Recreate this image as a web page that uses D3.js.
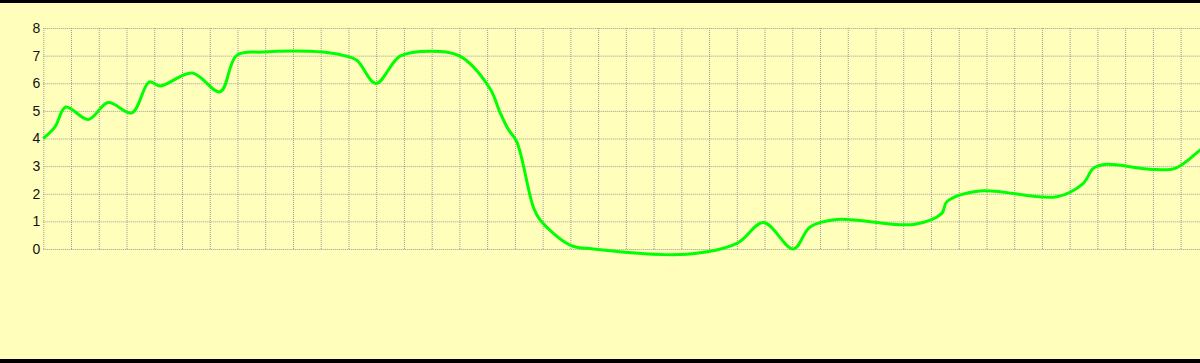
<!DOCTYPE html>
<html>
<head>
<meta charset="utf-8">
<script src="https://cdn.jsdelivr.net/npm/d3@7"></script>
<style>
  html, body { margin: 0; padding: 0; background: #ffffbb; }
  svg { display: block; }
</style>
</head>
<body>
<svg id="chart" width="1200" height="363"></svg>
<script>
// positions along the x axis, in grid units
var xValues = [0, 0.42, 0.81, 1.62, 2.34, 3.19, 3.82, 4.21, 5.37, 6.37, 6.97, 7.92, 9.00, 10.08, 10.80,
  11.30, 11.99, 12.86, 14.00, 15.02, 16.10, 16.46, 16.75, 17.07, 17.66, 17.91, 18.99, 19.82, 23.19, 25.00,
  25.96, 27.04, 27.64, 28.60, 31.37, 32.39, 32.57, 33.77, 36.53, 37.49, 37.85, 38.27, 39.89,
  40.80, 41.70, 42.06];
var yValues = [4.00, 4.42, 5.14, 4.69, 5.30, 4.93, 6.05, 5.90, 6.37, 5.69, 7.01, 7.13, 7.17, 7.13, 7.01,
  6.83, 5.99, 6.98, 7.16, 6.98, 5.81, 4.95, 4.35, 3.88, 1.53, 1.05, 0.14, 0.00, -0.19, 0.20,
  0.96, 0.00, 0.80, 1.07, 0.89, 1.29, 1.71, 2.10, 1.89, 2.38, 2.92, 3.06, 2.89,
  2.92, 3.58, 3.85];
var yTicks = [0, 1, 2, 3, 4, 5, 6, 7, 8];
var xTicks = d3.range(0, 43);

var svg = d3.select("#chart");
var W = 1200, H = 363;
var mLeft = 43.3, mTop = 28, mBottom = 249;

var x = d3.scaleLinear().domain([0, 42]).range([mLeft, mLeft + 42 * 27.74]);
var y = d3.scaleLinear().domain([0, 8]).range([mBottom, mTop]);

// black bands top and bottom
svg.append("rect").attr("x", 0).attr("y", 0).attr("width", W).attr("height", 3).attr("fill", "#000");
svg.append("rect").attr("x", 0).attr("y", 359).attr("width", W).attr("height", 4).attr("fill", "#000");

// horizontal grid + labels
var gy = svg.append("g")
  .attr("transform", "translate(" + mLeft + ",0)")
  .call(d3.axisLeft(y).tickValues(yTicks).tickSize(-(W - mLeft)).tickPadding(3).tickFormat(d3.format("d")));
gy.select(".domain").remove();
gy.selectAll(".tick line")
  .attr("stroke", "#999")
  .attr("stroke-dasharray", "1,1");
gy.selectAll(".tick text")
  .attr("fill", "#111")
  .style("font-family", "Liberation Sans, Arial, sans-serif")
  .style("font-size", "14px");

// vertical grid
var gx = svg.append("g")
  .attr("transform", "translate(0," + mBottom + ")")
  .call(d3.axisBottom(x).tickValues(xTicks).tickSize(-(mBottom - mTop)).tickFormat(""));
gx.select(".domain").remove();
gx.selectAll(".tick line")
  .attr("stroke", "#999")
  .attr("stroke-dasharray", "1,1");

// the green line
var line = d3.line()
  .x(function (d, i) { return x(xValues[i]); })
  .y(function (d) { return y(d); })
  .curve(d3.curveCatmullRom.alpha(0.5));

svg.append("path")
  .datum(yValues)
  .attr("d", line)
  .attr("fill", "none")
  .attr("stroke", "#00ff00")
  .attr("stroke-width", 3)
  .attr("stroke-linejoin", "round");
</script>
</body>
</html>
